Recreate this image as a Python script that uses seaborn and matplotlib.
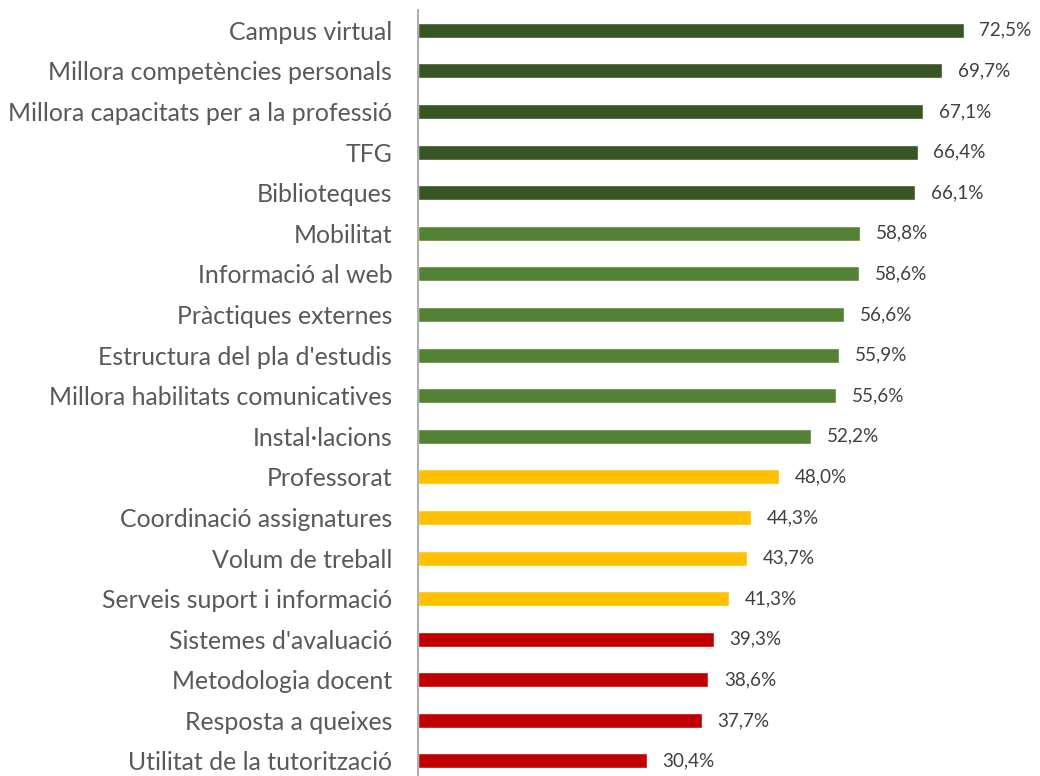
import matplotlib
matplotlib.use("Agg")
import matplotlib.pyplot as plt
import seaborn as sns
import pandas as pd

categories = [
    "Campus virtual", "Millora competències personals", "Millora capacitats per a la professió",
    "TFG", "Biblioteques", "Mobilitat", "Informació al web", "Pràctiques externes",
    "Estructura del pla d'estudis", "Millora habilitats comunicatives", "Instal·lacions",
    "Professorat", "Coordinació assignatures", "Volum de treball", "Serveis suport i informació",
    "Sistemes d'avaluació", "Metodologia docent", "Resposta a queixes", "Utilitat de la tutorització",
]
values = [72.5, 69.7, 67.1, 66.4, 66.1, 58.8, 58.6, 56.6, 55.9, 55.6, 52.2,
          48.0, 44.3, 43.7, 41.3, 39.3, 38.6, 37.7, 30.4]
groups = ["high"] * 5 + ["mid"] * 6 + ["low"] * 4 + ["vlow"] * 4
palette = {"high": "#375623", "mid": "#548235", "low": "#FFC000", "vlow": "#C00000"}

df = pd.DataFrame({"cat": categories, "val": values, "grp": groups})

sns.set_theme(style="white")
plt.rcParams["font.family"] = ["Lato", "DejaVu Sans"]

fig = plt.figure(figsize=(10.4, 7.76), dpi=100)
ax = fig.add_axes([418 / 1040, 0, 602 / 1040, 766 / 776])

sns.barplot(data=df, y="cat", x="val", hue="grp", palette=palette, dodge=False,
            width=0.37, saturation=1, legend=False, ax=ax, orient="h")

for i, v in enumerate(values):
    ax.text(v + 2.1, i, f"{v:.1f}%".replace(".", ","), va="center", ha="left",
            fontsize=13.6, color="#404040")

ax.set_xlim(0, 80)
ax.set_ylim(18.37, -0.5)
ax.set_xlabel("")
ax.set_ylabel("")
ax.set_xticks([])
ax.tick_params(axis="y", length=0, pad=18.5, labelsize=17.9, labelcolor="#595959")
for s in ["top", "right", "bottom"]:
    ax.spines[s].set_visible(False)
ax.spines["left"].set_color("#A6A6A6")
ax.spines["left"].set_linewidth(1.3)

fig.savefig("out.png", dpi=100)
